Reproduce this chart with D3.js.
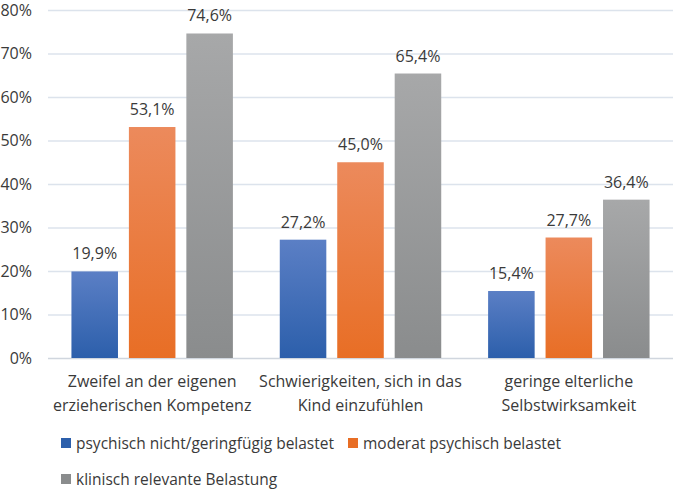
<!DOCTYPE html>
<html><head><meta charset="utf-8">
<script src="https://cdn.jsdelivr.net/npm/d3@7"></script>
<style>body{margin:0;background:#fff}svg{display:block}text{font-family:"Open Sans",sans-serif;fill:#3a3a3a}</style>
</head><body><svg id="c" width="673" height="491"></svg>
<script>
const categories=[["Zweifel an der eigenen","erzieherischen Kompetenz"],["Schwierigkeiten, sich in das","Kind einzufühlen"],["geringe elterliche","Selbstwirksamkeit"]];
const seriesNames=["psychisch nicht/geringfügig belastet","moderat psychisch belastet","klinisch relevante Belastung"];
const seriesA=[19.9,27.2,15.4];
const seriesB=[53.1,45.0,27.7];
const seriesC=[74.6,65.4,36.4];
const yTicks=[0,10,20,30,40,50,60,70,80];
const colors=[["#5b7fc5","#2c5fab"],["#ec8a5c","#e86e25"],["#a7a8a9","#8a8c8d"]];

const svg=d3.select("#c");
const pL=48,pR=673,pT=10,pB=358;
const x0=d3.scaleBand().domain(d3.range(3)).range([pL,pR]).paddingInner(0.225).paddingOuter(0.1125);
const y=d3.scaleLinear().domain([0,80]).range([pB,pT]);
const x1=d3.scaleBand().domain(d3.range(3)).range([0,x0.bandwidth()]).paddingInner(0.19).paddingOuter(0);

const defs=svg.append("defs");
colors.forEach((c,i)=>{const g=defs.append("linearGradient").attr("id","g"+i).attr("x1",0).attr("y1",0).attr("x2",0).attr("y2",1);
g.append("stop").attr("offset","0%").attr("stop-color",c[0]);g.append("stop").attr("offset","100%").attr("stop-color",c[1]);});

svg.append("g").selectAll("line").data(yTicks).join("line")
 .attr("x1",pL).attr("x2",pR).attr("y1",d=>y(d)+0.5).attr("y2",d=>y(d)+0.5)
 .attr("stroke",d=>d===0?"#d0d6de":"#dce3ec").attr("stroke-width",1.3);
svg.append("g").selectAll("text").data(yTicks).join("text")
 .attr("x",32).attr("y",d=>y(d)).attr("dy","0.36em").attr("text-anchor","end").style("font-size","16px").text(d=>d+"%");

const series=[seriesA,seriesB,seriesC];
const fmt=v=>v.toFixed(1).replace(".",",")+"%";
series.forEach((s,si)=>{
 const g=svg.append("g");
 g.selectAll("rect").data(s).join("rect")
  .attr("x",(d,i)=>x0(i)+x1(si)).attr("width",x1.bandwidth())
  .attr("y",d=>y(d)).attr("height",d=>y(0)-y(d)).attr("fill","url(#g"+si+")");
 g.selectAll("text").data(s).join("text")
  .attr("x",(d,i)=>x0(i)+x1(si)+x1.bandwidth()/2).attr("y",d=>y(d)-12)
  .attr("text-anchor","middle").style("font-size","16px").text(fmt);
});

const cat=svg.append("g").selectAll("text").data(categories).join("text")
 .attr("text-anchor","middle").style("font-size","16px");
cat.selectAll("tspan").data((d,i)=>d.map(t=>({t,i}))).join("tspan")
 .attr("x",d=>x0(d.i)+x0.bandwidth()/2).attr("y",(d,j)=>387+j*24).text(d=>d.t);

const legendPos=[[61,443],[348,443],[61,479]];
const lg=svg.append("g").selectAll("g").data(seriesNames).join("g")
 .attr("transform",(d,i)=>`translate(${legendPos[i][0]},${legendPos[i][1]})`);
lg.append("rect").attr("x",0).attr("y",-5).attr("width",10).attr("height",10).attr("fill",(d,i)=>colors[i][1]);
lg.append("text").attr("x",15).attr("y",0).attr("dy","0.36em").style("font-size","15.5px").text(d=>d);
</script></body></html>
